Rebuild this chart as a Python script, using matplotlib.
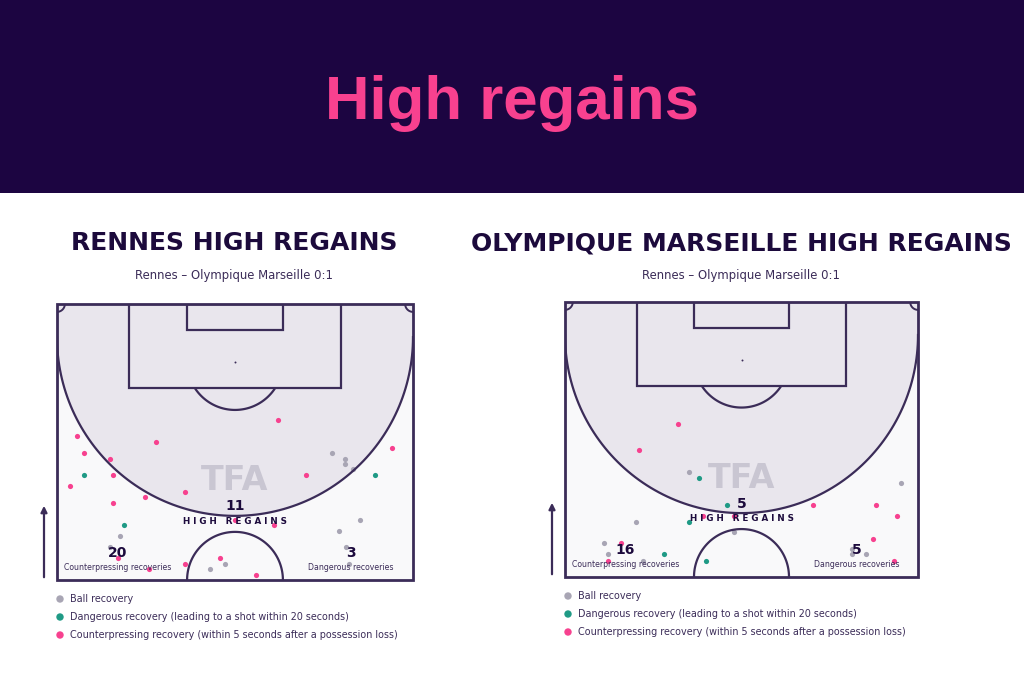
import numpy as np
import matplotlib
matplotlib.use("Agg")
import matplotlib.pyplot as plt
from matplotlib.patches import Rectangle, Polygon, Circle, Ellipse, FancyArrowPatch

# ---- data (pitch metres: x across 0-68, y down from goal line 0-52.5) ----
rennes_pink_x = [42.2, 3.9, 18.9, 64.0, 5.2, 10.1, 10.7, 47.6, 2.5, 24.4, 16.9, 10.7, 34.0, 41.5, 31.2, 24.4, 11.6, 17.6, 38.0]
rennes_pink_y = [22.1, 25.2, 26.2, 27.3, 28.3, 29.4, 32.5, 32.5, 34.6, 35.8, 36.7, 37.9, 41.0, 42.0, 48.4, 49.5, 48.4, 50.5, 51.6]
rennes_teal_x = [5.2, 60.7, 12.8]
rennes_teal_y = [32.5, 32.5, 42.0]
rennes_gray_x = [52.5, 55.1, 55.1, 56.5, 57.9, 53.8, 12.0, 10.1, 55.2, 55.8, 32.0, 29.2]
rennes_gray_y = [28.3, 29.4, 30.4, 31.4, 41.0, 43.2, 44.1, 46.3, 46.3, 49.4, 49.4, 50.5]

om_pink_x = [21.8, 14.3, 47.7, 59.9, 64.0, 26.6, 32.6, 59.3, 10.8, 8.2, 63.4]
om_pink_y = [23.2, 28.3, 38.7, 38.7, 40.8, 40.8, 40.8, 45.2, 46.1, 49.4, 49.4]
om_teal_x = [25.9, 31.3, 23.9, 19.1, 27.2]
om_teal_y = [33.6, 38.7, 42.0, 48.2, 49.4]
om_gray_x = [23.9, 64.7, 13.6, 32.6, 7.5, 8.2, 15.0, 55.3, 55.3, 58.0]
om_gray_y = [32.5, 34.6, 42.0, 44.0, 46.1, 48.1, 49.4, 47.2, 48.1, 48.1]

titles = ["RENNES HIGH REGAINS", "OLYMPIQUE MARSEILLE HIGH REGAINS"]
subtitle = "Rennes – Olympique Marseille 0:1"
totals = ["11", "5"]
counterpress = ["20", "16"]
dangerous = ["3", "5"]
legend_labels = ["Ball recovery",
                 "Dangerous recovery (leading to a shot within 20 seconds)",
                 "Counterpressing recovery (within 5 seconds after a possession loss)"]

DARK = "#1c0a3c"
LINE = "#3b2c58"
PINK = "#f7418f"
TEAL = "#1f9a85"
GRAY = "#a8a5b4"
SHADE = "#e9e6ed"
W, H = 1024, 683

fig = plt.figure(figsize=(10.24, 6.83), dpi=100)
fig.patch.set_facecolor("white")


def fx(px):
    return px / W


def fy(py):
    return 1 - py / H


# header band
fig.patches.append(Rectangle((0, fy(193)), 1, 193 / H, transform=fig.transFigure,
                             facecolor="#1c0541", edgecolor="none", zorder=0))
fig.text(0.5, fy(103), "High regains", color="#f8418f", fontsize=44.5,
         fontweight="bold", family="Liberation Sans", ha="center", va="center")


def arc_line(ax, cx, cy, r, t0, t1, lw=1.6):
    # angles in degrees, measured with y pointing down the pitch
    t = np.radians(np.linspace(t0, t1, 120))
    ax.plot(cx + r * np.cos(t), cy + r * np.sin(t), color=LINE, lw=lw, zorder=3,
            solid_capstyle="butt")


def draw_pitch(ax):
    ax.set_xlim(0, 68)
    ax.set_ylim(52.5, 0)
    ax.axis("off")
    ax.add_patch(Rectangle((0, 0), 68, 52.5, facecolor="#f9f9fa", edgecolor="none", zorder=0))
    c = 6.3
    t = np.linspace(np.pi, 0, 120)
    arc_x = 34 + 34 * np.cos(t)
    arc_y = c + 34 * np.sin(t)
    pts = [(0, 0)] + list(zip(arc_x, arc_y)) + [(68, 0)]
    ax.add_patch(Polygon(pts, closed=True, facecolor=SHADE, edgecolor="none", zorder=0.5))
    ax.plot(arc_x, arc_y, color=LINE, lw=1.6, zorder=3)
    # outer
    ax.add_patch(Rectangle((0, 0), 68, 52.5, facecolor="none", edgecolor=LINE, lw=2, zorder=3,
                           clip_on=False))
    # boxes
    ax.add_patch(Rectangle((13.84, 0), 40.32, 16.0, facecolor="none", edgecolor=LINE, lw=1.6, zorder=3))
    ax.add_patch(Rectangle((24.84, 0), 18.32, 5.0, facecolor="none", edgecolor=LINE, lw=1.6, zorder=3))
    ax.scatter([34], [11], s=2, color=LINE, zorder=3, linewidths=0)
    # penalty D (below the box edge)
    ang = np.degrees(np.arcsin(5 / 9.15))
    arc_line(ax, 34, 11, 9.15, ang, 180 - ang)
    # corners
    arc_line(ax, 0, 0, 1.5, 0, 90, lw=1.4)
    arc_line(ax, 68, 0, 1.5, 90, 180, lw=1.4)
    # centre circle
    arc_line(ax, 34, 52.5, 9.15, 180, 360)
    # watermark
    ax.text(34, 33.6, "TFA", color="#c9c6d2", fontsize=24, fontweight="heavy",
            ha="center", va="center", zorder=1)


def draw_panel(rect, title, cx_title, title_y, sub_y, gx, gy, tx, ty, px, py,
               total, cp, dg):
    ax = fig.add_axes([fx(rect[0]), fy(rect[1] + rect[3]), rect[2] / W, rect[3] / H])
    draw_pitch(ax)
    ax.scatter(gx, gy, s=14, color=GRAY, zorder=2, linewidths=0)
    ax.scatter(tx, ty, s=14, color=TEAL, zorder=2, linewidths=0)
    ax.scatter(px, py, s=14, color=PINK, zorder=2, linewidths=0)
    ax.text(34, 38.5, total, fontsize=10, fontweight="bold", color=DARK, ha="center", va="center", zorder=4)
    ax.text(34, 41.4, "H I G H   R E G A I N S", fontsize=6.3, fontweight="bold", color=DARK,
            ha="center", va="center", zorder=4)
    ax.text(11.5, 47.4, cp, fontsize=10, fontweight="bold", color=DARK, ha="center", va="center", zorder=4)
    ax.text(11.6, 50.2, "Counterpressing recoveries", fontsize=5.6, color=LINE,
            ha="center", va="center", zorder=4)
    ax.text(56.2, 47.4, dg, fontsize=10, fontweight="bold", color=DARK, ha="center", va="center", zorder=4)
    ax.text(56.2, 50.2, "Dangerous recoveries", fontsize=5.6, color=LINE,
            ha="center", va="center", zorder=4)
    fig.text(fx(cx_title), fy(title_y), title, fontsize=18, fontweight="bold", color=DARK,
             ha="center", va="center")
    fig.text(fx(cx_title), fy(sub_y), subtitle, fontsize=8.4, color=LINE, ha="center", va="center")
    # arrow
    ax_x = rect[0] - 13
    fig.patches.append(FancyArrowPatch(
        (fx(ax_x), fy(rect[1] + rect[3])), (fx(ax_x), fy(rect[1] + rect[3] - 77)),
        transform=fig.transFigure, arrowstyle="-|>", mutation_scale=9, color=LINE, lw=1.6))
    # legend
    lx = rect[0] + 3
    ly0 = rect[1] + rect[3] + 19
    cols = [GRAY, TEAL, PINK]
    for i, (lab, col) in enumerate(zip(legend_labels, cols)):
        yy = ly0 + i * 18
        fig.patches.append(Ellipse((fx(lx), fy(yy)), 6 / W, 6 / H, transform=fig.transFigure,
                                   color=col))
        fig.text(fx(lx + 10), fy(yy), lab, fontsize=6.9, color=LINE, ha="left", va="center")


draw_panel((57, 304, 356, 276), titles[0], 234, 243, 276,
           rennes_gray_x, rennes_gray_y, rennes_teal_x, rennes_teal_y,
           rennes_pink_x, rennes_pink_y, totals[0], counterpress[0], dangerous[0])
draw_panel((565, 302, 353, 275), titles[1], 741, 243, 275,
           om_gray_x, om_gray_y, om_teal_x, om_teal_y,
           om_pink_x, om_pink_y, totals[1], counterpress[1], dangerous[1])

fig.savefig("out.png", dpi=100)
